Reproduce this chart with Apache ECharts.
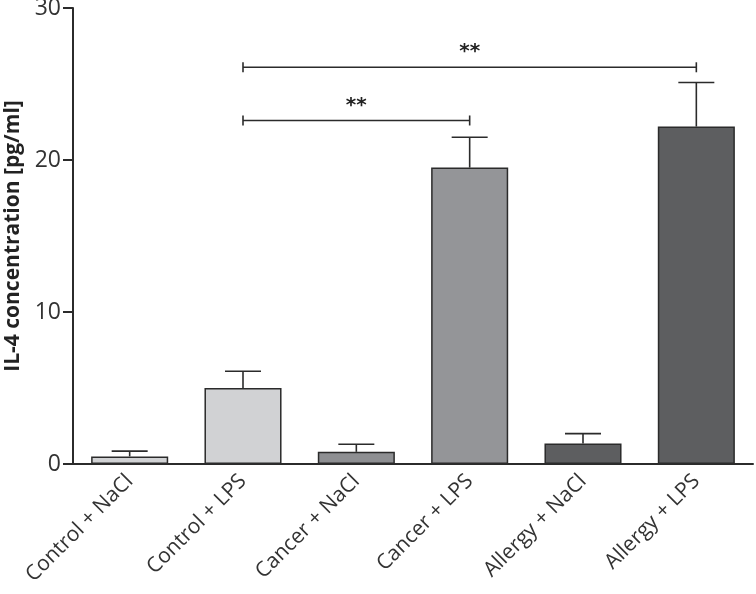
<!DOCTYPE html>
<html>
<head>
<meta charset="utf-8">
<script src="https://cdn.jsdelivr.net/npm/echarts@6/dist/echarts.min.js"></script>
<style>
  html, body { margin: 0; padding: 0; background: #fff; }
  #chart { width: 756px; height: 594px; }
</style>
</head>
<body>
<div id="chart"></div>
<script>
var categories = ['Control + NaCl', 'Control + LPS', 'Cancer + NaCl', 'Cancer + LPS', 'Allergy + NaCl', 'Allergy + LPS'];
var means = [0.5, 5.0, 0.8, 19.5, 1.35, 22.2];
var errTops = [0.85, 6.1, 1.3, 21.5, 2.0, 25.1];
var barColors = ['#d1d2d4', '#d1d2d4', '#8e8f92', '#949598', '#5d5e60', '#5d5e60'];
// [from category, to category, y level, label]
var brackets = [
    [1, 3, 22.6, '**'],
    [1, 5, 26.1, '**']
];

var axisColor = '#2b2b2b';
var chart = echarts.init(document.getElementById('chart'));

var option = {
    animation: false,
    grid: { left: 73, right: 3, top: 8, bottom: 130, containLabel: false, outerBoundsMode: 'none' },
    xAxis: {
        type: 'category',
        data: categories,
        axisLine: { lineStyle: { color: axisColor, width: 2 } },
        axisTick: { alignWithLabel: true, length: 9, lineStyle: { color: axisColor, width: 2 } },
        axisLabel: {
            rotate: 45, margin: 14, color: '#333',
            fontFamily: 'Open Sans', fontSize: 21
        }
    },
    yAxis: {
        type: 'value',
        min: 0, max: 30, interval: 10,
        name: 'IL-4 concentration [pg/ml]',
        nameLocation: 'middle',
        nameGap: 48,
        nameTextStyle: { fontFamily: 'Open Sans', fontSize: 21, fontWeight: 'bold', color: '#222' },
        splitLine: { show: false },
        axisLine: { show: true, lineStyle: { color: axisColor, width: 2 } },
        axisTick: { show: true, length: 10, lineStyle: { color: axisColor, width: 2 } },
        axisLabel: { margin: 12, color: '#333', fontFamily: 'Open Sans', fontSize: 23 }
    },
    series: [
        {
            type: 'bar',
            barWidth: '68%',
            z: 2,
            data: means.map(function (v, i) {
                return {
                    value: v,
                    itemStyle: { color: barColors[i], borderColor: '#2b2b2b', borderWidth: 1.5 }
                };
            })
        },
        {
            // error bars (upper only)
            type: 'custom',
            z: 1,
            data: means.map(function (v, i) { return [i, v, errTops[i]]; }),
            renderItem: function (params, api) {
                var base = api.coord([api.value(0), api.value(1)]);
                var top = api.coord([api.value(0), api.value(2)]);
                var half = 18;
                var style = { stroke: '#2b2b2b', lineWidth: 1.6 };
                return {
                    type: 'group',
                    children: [
                        { type: 'line', shape: { x1: base[0], y1: base[1], x2: top[0], y2: top[1] }, style: style },
                        { type: 'line', shape: { x1: top[0] - half, y1: top[1], x2: top[0] + half, y2: top[1] }, style: style }
                    ]
                };
            }
        },
        {
            // significance brackets
            type: 'custom',
            z: 3,
            data: brackets,
            renderItem: function (params, api) {
                var a = api.coord([api.value(0), api.value(2)]);
                var b = api.coord([api.value(1), api.value(2)]);
                var style = { stroke: '#2b2b2b', lineWidth: 1.6 };
                var label = brackets[params.dataIndex][3];
                return {
                    type: 'group',
                    children: [
                        { type: 'line', shape: { x1: a[0], y1: a[1], x2: b[0], y2: b[1] }, style: style },
                        { type: 'line', shape: { x1: a[0], y1: a[1] - 5, x2: a[0], y2: a[1] + 5 }, style: style },
                        { type: 'line', shape: { x1: b[0], y1: b[1] - 5, x2: b[0], y2: b[1] + 5 }, style: style },
                        {
                            type: 'text',
                            x: (a[0] + b[0]) / 2, y: a[1] - 5,
                            style: {
                                text: label, fill: '#222', fontSize: 20, fontWeight: 'bold',
                                fontFamily: 'DejaVu Sans', align: 'center', verticalAlign: 'bottom'
                            }
                        }
                    ]
                };
            }
        }
    ]
};

chart.setOption(option);
</script>
</body>
</html>
